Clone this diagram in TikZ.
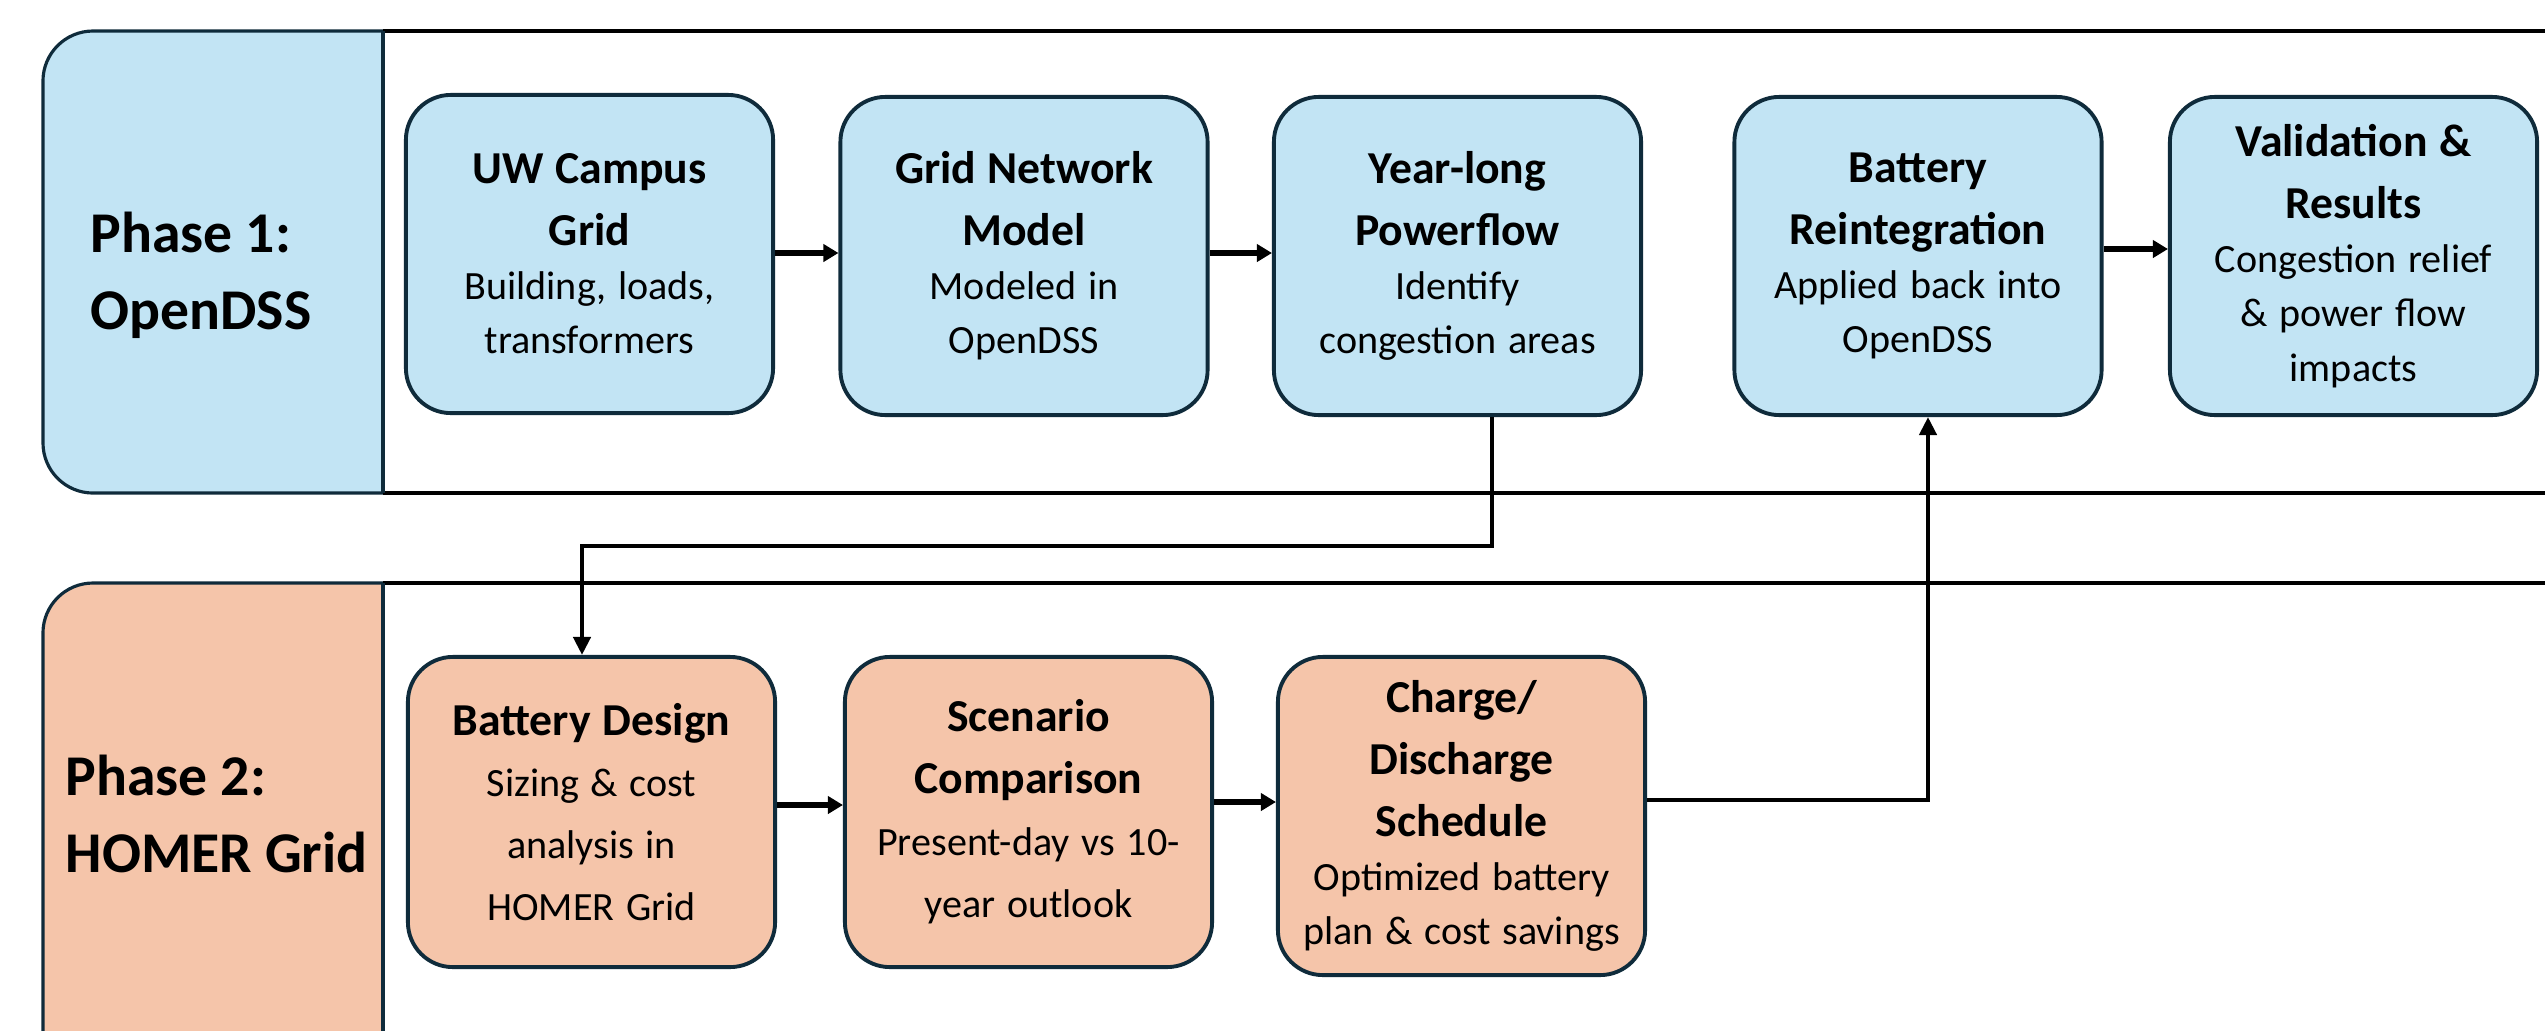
\documentclass[tikz,border=0pt]{standalone}
\usepackage{fontspec}
\setmainfont{Carlito}
\usetikzlibrary{arrows.meta}
\definecolor{blueF}{HTML}{C2E4F4}
\definecolor{peachF}{HTML}{F5C5AA}
\definecolor{bordc}{HTML}{0F2B3B}
\newcommand\ttl{\fontsize{13}{17.6}\selectfont\bfseries}
\newcommand\bdy{\fontsize{11.4}{15.4}\selectfont}
\newcommand\bdyw{\fontsize{11.4}{17.6}\selectfont}
\newcommand\phs{\fontsize{16.4}{21.9}\selectfont\bfseries}
\begin{document}
\begin{tikzpicture}[x=0.01cm,y=-0.01cm,
  box/.style={draw=bordc, line width=1.1pt, rounded corners=0.45cm, align=center,
    text width=3.5cm, inner sep=0pt, minimum width=3.67cm, minimum height=3.18cm},
  bluebox/.style={box, fill=blueF},
  peachbox/.style={box, fill=peachF},
  hdr/.style={draw=bordc, line width=0.9pt},
  laneline/.style={draw=black, line width=1.1pt},
  flow/.style={line width=1.8pt, -{Triangle[length=0.15cm,width=0.17cm]}},
  link/.style={line width=1.2pt, -{Triangle[length=0.18cm,width=0.17cm]}},
  phase/.style={anchor=west, align=left, inner sep=0pt, font=\phs}
]
\useasboundingbox (0,0) rectangle (2545,1030);
\clip (0,0) rectangle (2545,1030);

% Lane 1
\path[hdr, fill=blueF] (383,31) -- (93,31) arc[start angle=90,end angle=180,radius=0.5cm]
  -- (43,443) arc[start angle=180,end angle=270,radius=0.5cm] -- (383,493) -- cycle;
\draw[laneline] (383,31) -- (2600,31);
\draw[laneline] (383,493) -- (2600,493);
\draw[hdr] (383,31) -- (383,493);

% Lane 2
\path[hdr, fill=peachF] (383,583) -- (93,583) arc[start angle=90,end angle=180,radius=0.5cm]
  -- (43,1100) -- (383,1100) -- cycle;
\draw[laneline] (383,583) -- (2600,583);
\draw[hdr] (383,583) -- (383,1100);

\node[phase] (ph1) at (90,275) {Phase 1:\\OpenDSS};
\node[phase] (ph2) at (65,814) {Phase 2:\\HOMER Grid};

% Row 1
\node[bluebox] (b1) at (589.5,254) {{\ttl UW Campus\\Grid\par}{\bdy Building, loads,\\transformers\par}};
\node[bluebox] (b2) at (1024,256) {{\ttl Grid Network\\Model\par}{\bdy Modeled in\\OpenDSS\par}};
\node[bluebox] (b3) at (1457.5,256) {{\ttl Year-long\\Powerflow\par}{\bdy Identify\\congestion areas\par}};
\node[bluebox] (b4) at (1918,256) {{\ttl Battery\\Reintegration\par}{\bdy Applied back into\\OpenDSS\par}};
\node[bluebox] (b5) at (2353.5,256) {{\ttl Validation \&\\Results\par}{\bdy Congestion relief\\\& power flow\\impacts\par}};

% Row 2
\node[peachbox, minimum height=3.10cm] (c1) at (591.5,812) {{\ttl Battery Design\par}{\bdyw Sizing \& cost\\analysis in\\HOMER Grid\par}};
\node[peachbox, minimum height=3.10cm] (c2) at (1028.5,812) {{\ttl Scenario\\Comparison\par}{\bdyw Present-day vs 10-\\year outlook\par}};
\node[peachbox] (c3) at (1461.5,816) {{\ttl Charge/\\Discharge\\Schedule\par}{\bdy Optimized battery\\plan \& cost savings\par}};

% Connectors
\draw[flow] (b1.east |- 0,253) -- (b2.west |- 0,253);
\draw[flow] (b2.east |- 0,253) -- (b3.west |- 0,253);
\draw[flow] (b4.east |- 0,249) -- (b5.west |- 0,249);
\draw[flow] (c1.east |- 0,805) -- (c2.west |- 0,805);
\draw[flow] (c2.east |- 0,802) -- (c3.west |- 0,802);

\coordinate (t1) at (1492,546);
\coordinate (t2) at (582,546);
\draw[link] (b3.south -| t1) -- (t1) -- (t2) -- (t2 |- c1.north);

\coordinate (u1) at (1928,800);
\draw[link] (c3.east |- u1) -- (u1) -- (u1 |- b4.south);
\end{tikzpicture}
\end{document}
